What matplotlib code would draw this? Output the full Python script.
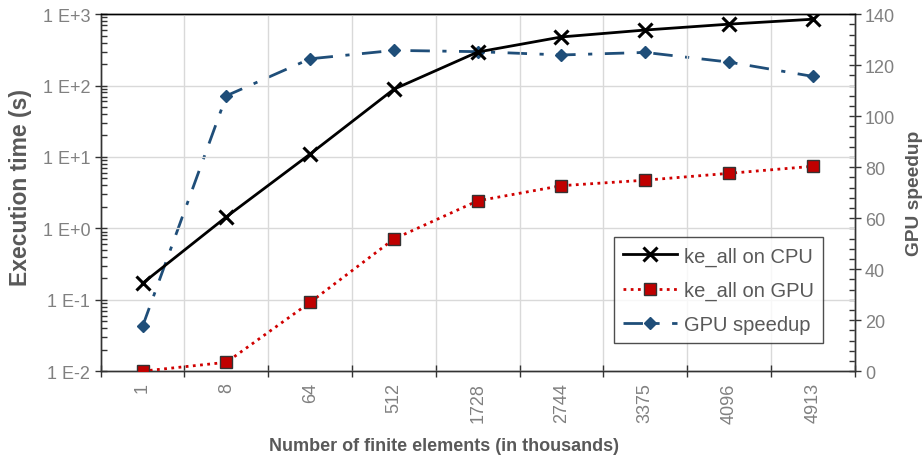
import math
import matplotlib.pyplot as plt
from matplotlib.ticker import FixedLocator, LogLocator, MultipleLocator, FuncFormatter, NullFormatter

plt.rcParams['font.family'] = ['Liberation Sans', 'DejaVu Sans']

elements = ['1', '8', '64', '512', '1728', '2744', '3375', '4096', '4913']
cpu_time = [0.17, 1.45, 11.0, 89.0, 295.0, 480.0, 600.0, 725.0, 850.0]
gpu_time = [0.010, 0.0133, 0.092, 0.71, 2.43, 3.96, 4.73, 5.9, 7.4]
speedup = [17.6, 108.0, 122.5, 125.8, 125.3, 124.0, 125.0, 121.2, 115.6]

tick_grey = '#808080'
label_grey = '#595959'

fig = plt.figure(figsize=(9.24, 4.6), dpi=100)
ax = fig.add_axes([0.109, 0.191, 0.816, 0.776])
ax2 = ax.twinx()

x = list(range(len(elements)))

# left axis: execution times (log)
l1, = ax.plot(x, cpu_time, color='black', lw=2, marker='x', ms=10, mew=2.2,
              label='ke_all on CPU', zorder=4)
l2, = ax.plot(x, gpu_time, color='#d00000', lw=2, ls=(0, (1, 1.6)), marker='s', ms=9,
              mfc='#c00000', mec='#333333', mew=1, label='ke_all on GPU', zorder=4)
ax.set_yscale('log')
ax.set_ylim(0.01, 1000)
ax.set_xlim(-0.5, len(elements) - 0.5)

# right axis: speedup
l3, = ax2.plot(x, speedup, color='#1f4e79', lw=2, ls=(0, (7, 4.5, 1.5, 4.5)), marker='D', ms=6.5,
               label='GPU speedup', zorder=3)
ax2.set_ylim(0, 140)
ax2.yaxis.set_major_locator(MultipleLocator(20))
ax2.yaxis.set_minor_locator(MultipleLocator(4))


def sci(v, pos):
    e = int(round(math.log10(v)))
    return '1 E+%d' % e if e >= 0 else '1 E%d' % e


ax.yaxis.set_major_locator(LogLocator(base=10, numticks=10))
ax.yaxis.set_major_formatter(FuncFormatter(sci))
ax.yaxis.set_minor_locator(LogLocator(base=10, subs=range(2, 10), numticks=10))
ax.yaxis.set_minor_formatter(NullFormatter())

# categories: labels in middle, ticks/grid at boundaries
ax.xaxis.set_major_locator(FixedLocator(x))
ax.set_xticklabels(elements, rotation=90)
ax.xaxis.set_minor_locator(FixedLocator([i + 0.5 for i in range(-1, len(elements))]))
ax.tick_params(axis='x', which='major', length=0, pad=8, labelsize=13, labelcolor=tick_grey)
ax.tick_params(axis='x', which='minor', length=9, direction='inout', width=1, color='#333333')

ax.tick_params(axis='y', which='major', length=9, direction='inout', width=1, color='#333333',
               labelsize=13, labelcolor=tick_grey, pad=3)
ax.tick_params(axis='y', which='minor', length=4, direction='in', width=1, color='#333333')
ax2.tick_params(axis='y', which='major', length=9, direction='inout', width=1, color='#333333',
                labelsize=13, labelcolor=tick_grey, pad=3)
ax2.tick_params(axis='y', which='minor', length=4, direction='in', width=1, color='#333333')

ax.grid(True, which='minor', axis='x', color='#d9d9d9', lw=1)
ax.grid(True, which='major', axis='y', color='#d9d9d9', lw=1)
ax.set_axisbelow(True)

for a in (ax, ax2):
    for s in a.spines.values():
        s.set_color('#333333')
        s.set_linewidth(1)
    a.spines['top'].set_color('black')

ax.set_xlabel('Number of finite elements (in thousands)', fontsize=13, fontweight='bold',
              color=label_grey, va='center')
ax.xaxis.set_label_coords(0.455, -0.207)
ax.set_ylabel('Execution time (s)', fontsize=16.5, fontweight='bold', color=label_grey,
              va='center')
ax.yaxis.set_label_coords(-0.107, 0.518)
ax2.set_ylabel('GPU speedup', fontsize=13.8, fontweight='bold', color=label_grey, labelpad=8)

ax2.set_zorder(ax.get_zorder() - 1)
ax.patch.set_visible(False)

leg = ax.legend(handles=[l1, l2, l3], loc='lower right', bbox_to_anchor=(0.958, 0.078),
                fontsize=14.5, frameon=True, fancybox=False, handlelength=2.7,
                handletextpad=0.35, borderpad=0.45, labelspacing=0.75, labelcolor=label_grey,
                borderaxespad=0)
leg.get_frame().set_edgecolor('#222222')
leg.get_frame().set_linewidth(1)

fig.savefig('out.png', dpi=100)
